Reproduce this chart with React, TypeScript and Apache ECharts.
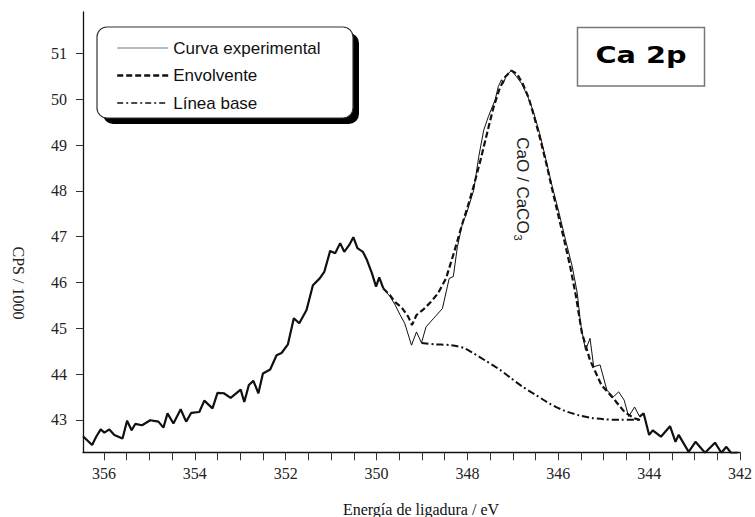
import React, { useEffect, useRef } from 'react';
import * as echarts from 'echarts';

// ---- data ----
const expEnergy = [356.46, 356.26, 356.17, 356.07, 355.99, 355.88, 355.77, 355.59, 355.49, 355.39, 355.31, 355.16, 354.98, 354.80, 354.69, 354.60, 354.47, 354.31, 354.19, 354.08, 353.90, 353.79, 353.61, 353.50, 353.36, 353.21, 352.99, 352.91, 352.81, 352.71, 352.60, 352.50, 352.34, 352.20, 352.09, 351.95, 351.82, 351.70, 351.54, 351.40, 351.25, 351.15, 351.02, 350.91, 350.80, 350.71, 350.60, 350.51, 350.42, 350.30, 350.21, 350.10, 350.01, 349.94, 349.85, 349.70, 349.59, 349.48, 349.38, 349.23, 349.12, 349.01, 348.91, 348.74, 348.55, 348.40, 348.31, 348.22, 348.09, 348.04, 347.86, 347.75, 347.64, 347.54, 347.39, 347.32, 347.25, 347.21, 347.14, 347.03, 346.92, 346.81, 346.67, 346.56, 346.41, 346.27, 346.13, 345.98, 345.84, 345.69, 345.58, 345.51, 345.40, 345.30, 345.22, 345.08, 344.93, 344.79, 344.67, 344.55, 344.45, 344.32, 344.21, 344.12, 344.00, 343.92, 343.74, 343.54, 343.42, 343.35, 343.13, 342.98, 342.77, 342.55, 342.41, 342.30, 342.19, 342.05];
const expCounts = [42.64, 42.45, 42.63, 42.79, 42.72, 42.79, 42.67, 42.59, 42.98, 42.77, 42.91, 42.88, 42.99, 42.96, 42.83, 43.14, 42.92, 43.23, 42.96, 43.15, 43.17, 43.42, 43.25, 43.59, 43.58, 43.48, 43.66, 43.39, 43.76, 43.85, 43.58, 44.01, 44.10, 44.41, 44.46, 44.65, 45.22, 45.11, 45.40, 45.94, 46.09, 46.23, 46.69, 46.64, 46.86, 46.67, 46.82, 46.99, 46.75, 46.67, 46.49, 46.20, 45.91, 46.11, 45.87, 45.69, 45.51, 45.29, 45.11, 44.63, 44.92, 44.68, 45.03, 45.22, 45.43, 46.09, 46.13, 46.78, 47.37, 47.44, 48.02, 48.75, 49.33, 49.62, 49.99, 50.28, 50.43, 50.35, 50.53, 50.63, 50.50, 50.35, 50.06, 49.77, 49.26, 48.68, 48.09, 47.51, 46.93, 46.34, 45.76, 45.11, 44.52, 44.78, 44.16, 44.20, 43.65, 43.50, 43.61, 43.43, 43.07, 43.28, 43.07, 43.14, 42.67, 42.77, 42.63, 42.86, 42.52, 42.67, 42.30, 42.52, 42.28, 42.50, 42.28, 42.41, 42.27, 42.28];

const envEnergy = [349.85, 349.70, 349.59, 349.45, 349.30, 349.22, 349.12, 348.98, 348.80, 348.65, 348.47, 348.29, 348.14, 347.99, 347.86, 347.71, 347.56, 347.43, 347.30, 347.17, 347.03, 346.91, 346.78, 346.65, 346.52, 346.39, 346.26, 346.13, 346.00, 345.87, 345.74, 345.61, 345.48, 345.30, 345.05, 344.79, 344.54, 344.32, 344.18];
const envCounts = [45.87, 45.72, 45.57, 45.46, 45.25, 45.07, 45.29, 45.40, 45.58, 45.76, 46.09, 46.67, 47.19, 47.67, 48.11, 48.68, 49.29, 49.81, 50.21, 50.49, 50.63, 50.56, 50.34, 50.03, 49.59, 49.11, 48.59, 48.02, 47.47, 46.93, 46.36, 45.70, 44.90, 44.30, 43.76, 43.47, 43.17, 43.03, 42.99];

const baseEnergy = [349.01, 348.73, 348.36, 348.08, 347.86, 347.58, 347.28, 347.04, 346.78, 346.49, 346.20, 345.87, 345.55, 345.26, 344.97, 344.61, 344.18];
const baseCounts = [44.68, 44.65, 44.63, 44.57, 44.45, 44.28, 44.09, 43.91, 43.72, 43.54, 43.36, 43.20, 43.10, 43.04, 43.01, 43.00, 43.00];

const xLabelValues = [342, 344, 346, 348, 350, 352, 354, 356];
const xTickValues = [342, 342.5, 343, 343.5, 344, 344.5, 345, 345.5, 346, 346.5, 347, 347.5, 348, 348.5, 349, 349.5, 350, 350.5, 351, 351.5, 352, 352.5, 353, 353.5, 354, 354.5, 355, 355.5, 356];
const yTickValues = [43, 44, 45, 46, 47, 48, 49, 50, 51];

const legendNames = ['Curva experimental', 'Envolvente', 'Línea base'];
const titleText = 'Ca 2p';
const peakLabelMain = 'CaO / CaCO';
const peakLabelSub = '3';
const xAxisTitle = 'Energía de ligadura / eV';
const yAxisTitle = 'CPS / 1000';

const X_MIN = 342;
const X_MAX = 356.46;
const Y_MIN = 42.29;
const Y_MAX = 51.91;

function pairs(xs: number[], ys: number[]) {
  return xs.map((x, i) => [x, ys[i]]);
}

const SERIF = "'Liberation Serif', 'Times New Roman', serif";
const SANS = "'Liberation Sans', Arial, sans-serif";
const HIDDEN = 'rgba(0,0,0,0)';

export default function App() {
  const ref = useRef<HTMLDivElement>(null);

  useEffect(() => {
    if (!ref.current) return;
    const chart = echarts.init(ref.current, undefined, { renderer: 'svg' });
    const expData = pairs(expEnergy, expCounts);
    const boldLeft = expData.filter((p) => p[0] >= 349.85);
    const boldRight = expData.filter((p) => p[0] <= 344.21);

    chart.setOption({
      animation: false,
      backgroundColor: '#ffffff',
      grid: { left: 83, right: 6.7, top: 12, bottom: 64.7, containLabel: false },
      xAxis: {
        type: 'value',
        inverse: true,
        min: X_MIN,
        max: X_MAX,
        axisLine: { show: true, lineStyle: { color: '#111', width: 1.3 } },
        axisTick: {
          show: true,
          inside: false,
          length: 8,
          customValues: xTickValues,
          lineStyle: { color: '#333', width: 1 },
        },
        axisLabel: {
          show: true,
          customValues: xLabelValues,
          margin: 13,
          fontFamily: SERIF,
          fontSize: 16,
          color: '#222',
          formatter: (v: number) => String(Math.round(v)),
        },
        splitLine: { show: false },
      },
      yAxis: {
        type: 'value',
        min: Y_MIN,
        max: Y_MAX,
        axisLine: { show: true, lineStyle: { color: '#111', width: 1.3 } },
        axisTick: {
          show: true,
          inside: false,
          length: 7,
          customValues: yTickValues,
          lineStyle: { color: '#333', width: 1 },
        },
        axisLabel: {
          show: true,
          customValues: yTickValues,
          margin: 16,
          fontFamily: SERIF,
          fontSize: 16,
          color: '#222',
          formatter: (v: number) => String(Math.round(v)),
        },
        splitLine: { show: false },
      },
      legend: {
        data: [
          {
            name: legendNames[0],
            itemStyle: { color: HIDDEN, borderWidth: 0, borderColor: HIDDEN },
            lineStyle: { width: 1, color: '#777', type: 'solid' },
          },
          {
            name: legendNames[1],
            itemStyle: { color: HIDDEN, borderWidth: 0, borderColor: HIDDEN },
            lineStyle: { width: 2.4, color: '#111', type: [6, 3] },
          },
          {
            name: legendNames[2],
            itemStyle: { color: HIDDEN, borderWidth: 0, borderColor: HIDDEN },
            lineStyle: { width: 1.4, color: '#111', type: [6, 3, 2, 3] },
          },
        ],
        orient: 'vertical',
        left: 111,
        top: 33,
        itemWidth: 51,
        itemHeight: 14,
        itemGap: 7.5,
        selectedMode: false,
        z: 10,
        itemStyle: { color: HIDDEN, borderWidth: 0, borderColor: HIDDEN },
        textStyle: {
          fontFamily: SANS,
          fontSize: 17,
          color: '#111',
          lineHeight: 20,
        },
      },
      graphic: [
        {
          type: 'rect',
          z: 1,
          shape: { x: 103, y: 33, width: 256, height: 91, r: 10 },
          style: { fill: '#000' },
        },
        {
          type: 'rect',
          z: 2,
          shape: { x: 97, y: 27, width: 256, height: 91, r: 10 },
          style: { fill: '#fff', stroke: '#333', lineWidth: 1.2 },
        },
        {
          type: 'rect',
          z: 2,
          shape: { x: 577.5, y: 27.5, width: 127, height: 58.5 },
          style: { fill: '#fff', stroke: '#777', lineWidth: 1.5 },
        },
        {
          type: 'text',
          z: 3,
          x: 641,
          y: 55,
          scaleX: 1.25,
          style: {
            text: titleText,
            fontFamily: "'Comic Sans MS', 'DejaVu Sans', sans-serif",
            fontWeight: 'bold',
            fontSize: 23,
            fill: '#000',
            align: 'center',
            verticalAlign: 'middle',
          },
        },
        {
          type: 'text',
          z: 3,
          x: 522,
          y: 189,
          rotation: -Math.PI / 2,
          style: {
            text: '{m|' + peakLabelMain + '}{s|' + peakLabelSub + '}',
            align: 'center',
            verticalAlign: 'middle',
            rich: {
              m: { fontFamily: SANS, fontSize: 17, fill: '#222', lineHeight: 20 },
              s: { fontFamily: SANS, fontSize: 11, fill: '#222', lineHeight: 20, padding: [9, 0, 0, 1] },
            },
          },
        },
        {
          type: 'text',
          z: 3,
          x: 18,
          y: 283,
          rotation: -Math.PI / 2,
          style: {
            text: yAxisTitle,
            fontFamily: SERIF,
            fontSize: 16,
            fill: '#222',
            align: 'center',
            verticalAlign: 'middle',
          },
        },
        {
          type: 'text',
          z: 3,
          x: 421,
          y: 501,
          style: {
            text: xAxisTitle,
            fontFamily: SERIF,
            fontSize: 16,
            fill: '#111',
            align: 'center',
            verticalAlign: 'top',
          },
        },
      ],
      series: [
        {
          name: legendNames[0],
          type: 'line',
          data: expData,
          symbol: 'none',
          z: 3,
          lineStyle: { color: '#111', width: 1, type: 'solid' },
          itemStyle: { color: '#111' },
        },
        {
          name: 'exp-bold-left',
          type: 'line',
          data: boldLeft,
          symbol: 'none',
          z: 3,
          lineStyle: { color: '#111', width: 2.2 },
          itemStyle: { color: '#111' },
        },
        {
          name: 'exp-bold-right',
          type: 'line',
          data: boldRight,
          symbol: 'none',
          z: 3,
          lineStyle: { color: '#111', width: 2.2 },
          itemStyle: { color: '#111' },
        },
        {
          name: legendNames[1],
          type: 'line',
          data: pairs(envEnergy, envCounts),
          symbol: 'none',
          z: 4,
          lineStyle: { color: '#111', width: 2.2, type: [6, 3] },
          itemStyle: { color: '#111' },
        },
        {
          name: legendNames[2],
          type: 'line',
          data: pairs(baseEnergy, baseCounts),
          symbol: 'none',
          smooth: 0.3,
          z: 4,
          lineStyle: { color: '#111', width: 2, type: [7, 3, 2, 3] },
          itemStyle: { color: '#111' },
        },
      ],
    });

    return () => {
      chart.dispose();
    };
  }, []);

  return (
    <div
      ref={ref}
      style={{ position: 'absolute', left: 0, top: 0, width: 755, height: 517 }}
    />
  );
}
